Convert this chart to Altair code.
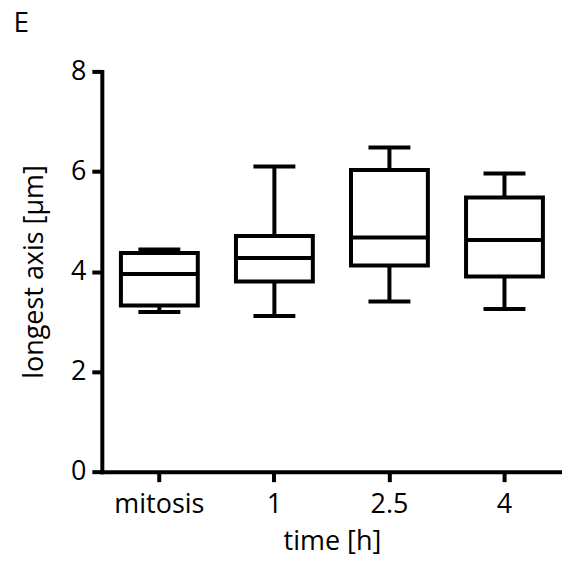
import altair as alt
import pandas as pd

categories = ["mitosis", "1", "2.5", "4"]
whisker_low = [3.19, 3.11, 3.40, 3.25]
q1 = [3.32, 3.80, 4.12, 3.90]
median = [3.95, 4.27, 4.68, 4.63]
q3 = [4.37, 4.71, 6.03, 5.48]
whisker_high = [4.44, 6.10, 6.48, 5.96]
y_ticks = [0, 2, 4, 6, 8]

df = pd.DataFrame({
    "time": categories,
    "lo": whisker_low,
    "q1": q1,
    "med": median,
    "q3": q3,
    "hi": whisker_high,
})

FONT = "Open Sans"
SW = 4

x = alt.X("time:N", sort=categories, title="time [h]",
          scale=alt.Scale(paddingInner=0, paddingOuter=0),
          axis=alt.Axis(labelAngle=0, labelPadding=10, titlePadding=11))
yscale = alt.Scale(domain=[0, 8], nice=False)
yaxis = alt.Axis(values=y_ticks, title="longest axis [µm]", titlePadding=22,
                 labelPadding=6)

base = alt.Chart(df)

whisk = base.mark_rule(color="black", strokeWidth=SW).encode(
    x=x, y=alt.Y("lo:Q", scale=yscale, axis=yaxis), y2="hi:Q")
box = base.mark_bar(fill="white", stroke="black", strokeWidth=SW, size=77).encode(
    x=x, y=alt.Y("q1:Q", scale=yscale, axis=yaxis), y2="q3:Q")
med = base.mark_tick(color="black", thickness=SW, size=77, opacity=1).encode(
    x=x, y=alt.Y("med:Q", scale=yscale, axis=yaxis))
cap_lo = base.mark_tick(color="black", thickness=SW, size=42, opacity=1).encode(
    x=x, y=alt.Y("lo:Q", scale=yscale, axis=yaxis))
cap_hi = base.mark_tick(color="black", thickness=SW, size=42, opacity=1).encode(
    x=x, y=alt.Y("hi:Q", scale=yscale, axis=yaxis))

chart = alt.layer(whisk, box, med, cap_lo, cap_hi).properties(
    width=461, height=401,
    title=alt.TitleParams("E", anchor="start", frame="bounds", fontSize=28,
                          font=FONT, fontWeight="normal", color="black",
                          dx=-7, offset=19),
    padding={"left": 5, "top": 2, "right": 0, "bottom": 6},
).configure_view(stroke=None).configure_axis(
    grid=False,
    domainColor="black", domainWidth=SW,
    tickColor="black", tickWidth=SW, tickSize=10,
    labelFont=FONT, labelFontSize=27, labelColor="black",
    titleFont=FONT, titleFontSize=27, titleColor="black", titleFontWeight="normal",
    domainCap="square",
)

chart.save("out.html", embed_options={"renderer": "svg", "actions": False})
